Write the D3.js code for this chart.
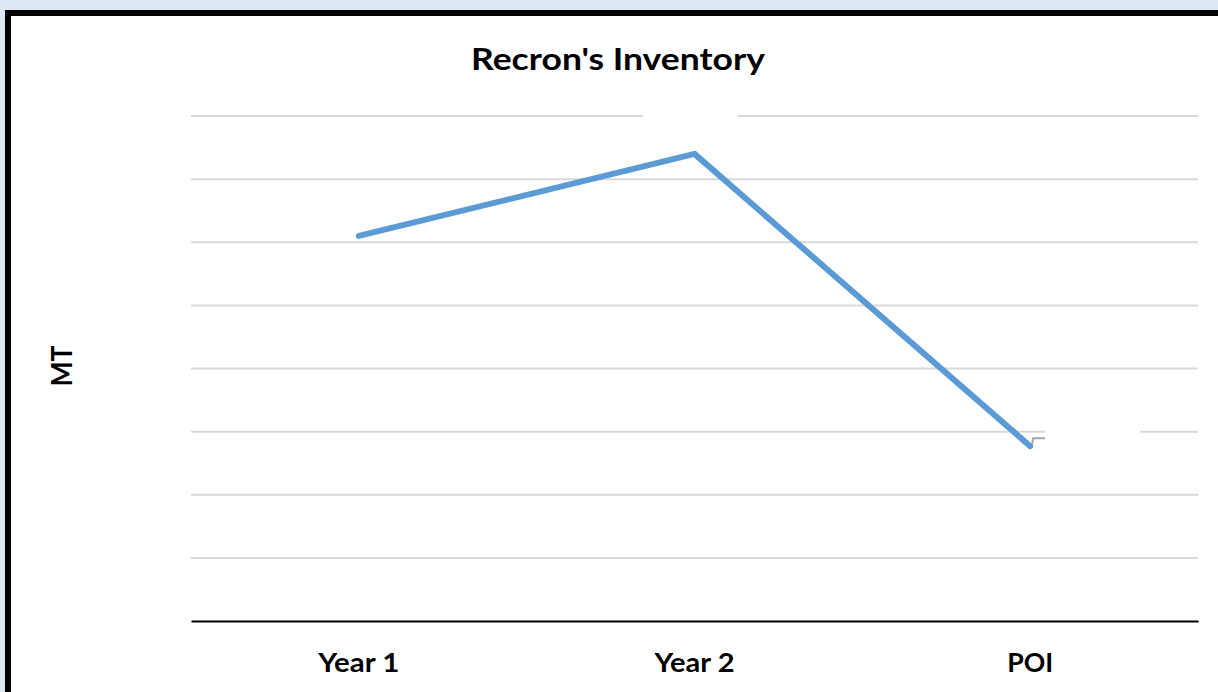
<!DOCTYPE html>
<html><head><meta charset="utf-8">
<script src="https://cdn.jsdelivr.net/npm/d3@7"></script>
<style>body{margin:0;background:#dee8f4;}svg{display:block;}</style>
</head><body>
<script>
const categories = ["Year 1", "Year 2", "POI"];
const values = [6.1, 7.4, 2.77];
const gridTicks = [1, 2, 3, 4, 5, 6, 7, 8];
const title = "Recron's Inventory";
const yTitle = "MT";
const labelWidths = {"Year 1": 81, "Year 2": 80, "POI": 46};

const W = 1218, H = 692;
const FONT = "Lato, 'Open Sans', sans-serif";
const svg = d3.select("body").append("svg").attr("width", W).attr("height", H);
svg.append("rect").attr("width", W).attr("height", H).attr("fill", "#dee8f4");
// chart frame
svg.append("rect").attr("x", 8).attr("y", 13).attr("width", W + 20).attr("height", H + 20)
  .attr("fill", "#fff").attr("stroke", "#000").attr("stroke-width", 6);

const x = d3.scaleBand().domain(categories).range([191, 1198]);
const y = d3.scaleLinear().domain([0, 8]).range([621, 116]);

// gridlines
svg.append("g").selectAll("line").data(gridTicks).join("line")
  .attr("x1", 191).attr("x2", 1198)
  .attr("y1", d => y(d)).attr("y2", d => y(d))
  .attr("stroke", "#d9d9d9").attr("stroke-width", 2);

// x axis
const xAxis = svg.append("g").attr("transform", `translate(0,${y(0)})`)
  .call(d3.axisBottom(x).tickSize(0).tickPadding(0));
xAxis.select(".domain").attr("stroke", "#000").attr("stroke-width", 2);
xAxis.selectAll("text").attr("font-family", FONT)
  .attr("font-weight", "bold").attr("font-size", 26).attr("fill", "#000")
  .attr("dy", null).attr("y", 51)
  .attr("textLength", d => labelWidths[d]).attr("lengthAdjust", "spacingAndGlyphs");

// blank data-label boxes (hide gridlines)
svg.append("rect").attr("x", 643).attr("y", 100).attr("width", 95).attr("height", 34).attr("fill", "#fff");
svg.append("rect").attr("x", 1045).attr("y", 420).attr("width", 95).attr("height", 34).attr("fill", "#fff");

// leader line at POI
const px = x("POI") + x.bandwidth() / 2, py = y(values[2]);
svg.append("path").attr("d", `M${px + 2},${py - 2} L${px + 3},${py - 8} L1045,${py - 8}`)
  .attr("fill", "none").attr("stroke", "#a6a6a6").attr("stroke-width", 2);

// line
const line = d3.line().x((d, i) => x(categories[i]) + x.bandwidth() / 2).y(d => y(d));
svg.append("path").datum(values).attr("d", line)
  .attr("fill", "none").attr("stroke", "#5b9bd5").attr("stroke-width", 6)
  .attr("stroke-linejoin", "round").attr("stroke-linecap", "round");

// title
svg.append("text").attr("x", 618).attr("y", 70).attr("text-anchor", "middle")
  .attr("font-family", FONT).attr("font-weight", "bold")
  .attr("font-size", 31).attr("textLength", 294).attr("lengthAdjust", "spacingAndGlyphs").text(title);

// y title
svg.append("text").attr("transform", "translate(72,366) rotate(-90)").attr("text-anchor", "middle")
  .attr("font-family", FONT).attr("font-weight", "bold")
  .attr("font-size", 29).attr("textLength", 41).attr("lengthAdjust", "spacingAndGlyphs").text(yTitle);
</script>
</body></html>
